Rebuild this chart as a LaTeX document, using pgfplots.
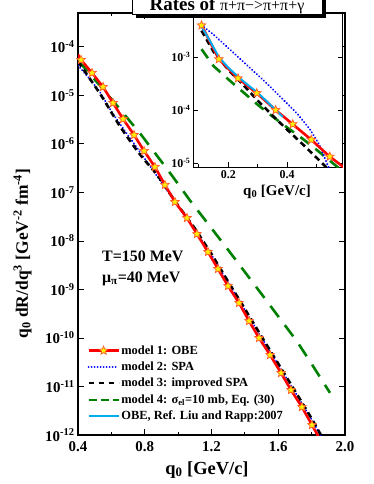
\documentclass[border=0pt]{standalone}
\usepackage{fontspec}
\setmainfont{Liberation Serif}
\usepackage{pgfplots}
\pgfplotsset{compat=1.18}
\definecolor{dgreen}{RGB}{0,128,0}
\definecolor{staredge}{RGB}{255,90,40}
\pgfdeclareplotmark{fstar}{%
 \pgfpathmoveto{\pgfpointpolar{90}{\pgfplotmarksize}}%
 \pgfpathlineto{\pgfpointpolar{126}{0.45\pgfplotmarksize}}%
 \pgfpathlineto{\pgfpointpolar{162}{\pgfplotmarksize}}%
 \pgfpathlineto{\pgfpointpolar{198}{0.45\pgfplotmarksize}}%
 \pgfpathlineto{\pgfpointpolar{234}{\pgfplotmarksize}}%
 \pgfpathlineto{\pgfpointpolar{270}{0.45\pgfplotmarksize}}%
 \pgfpathlineto{\pgfpointpolar{306}{\pgfplotmarksize}}%
 \pgfpathlineto{\pgfpointpolar{342}{0.45\pgfplotmarksize}}%
 \pgfpathlineto{\pgfpointpolar{18}{\pgfplotmarksize}}%
 \pgfpathlineto{\pgfpointpolar{54}{0.45\pgfplotmarksize}}%
 \pgfpathclose\pgfusepathqfillstroke}
\pgfplotsset{
  redline/.style={red, line width=2.6bp, solid},
  redstar/.style={only marks, mark=fstar, mark size=4.5bp, mark options={fill=yellow, draw=staredge, line width=0.7bp, solid}},
  blueline/.style={blue, line width=2.2bp, line cap=round, dash pattern=on 0.01bp off 3.2bp},
  blackline/.style={black, line width=2.6bp, dash pattern=on 6bp off 4bp},
  greenline/.style={dgreen, line width=2.6bp, dash pattern=on 14bp off 10bp},
  cyanline/.style={cyan, line width=2bp, solid},
}
\begin{document}
\begin{tikzpicture}
\useasboundingbox (0,0) rectangle (374bp,-484bp);
\begin{axis}[
  at={(78bp,-435bp)}, anchor=south west, scale only axis,
  width=267bp, height=422bp,
  xmin=0.4, xmax=2.0, ymode=log, log basis y=10, ymin=1e-12, ymax=5e-4,
  xtick={0.4,0.8,1.2,1.6,2.0}, xticklabels={0.4,0.8,1.2,1.6,2.0},
  minor xtick={0.6,1.0,1.4,1.8},
  ytick={1e-12,1e-11,1e-10,1e-9,1e-8,1e-7,1e-6,1e-5,1e-4},
  yticklabel={\pgfmathparse{int(round(\tick))}10\textsuperscript{\pgfmathresult}},
  tick label style={font=\fontsize{15}{17}\selectfont\bfseries},
  xticklabel style={yshift=-3bp},
  axis line style={line width=1.2bp},
  every tick/.append style={black, line width=0.9bp},
  major tick length=6bp, minor tick length=3.5bp,
  xlabel={q\textsubscript{0} [GeV/c]},
  xlabel style={font=\fontsize{18.5}{20}\selectfont\bfseries, at={(axis description cs:0.483,0)}, anchor=base, yshift=-39bp},
  ylabel={q\textsubscript{0} dR/dq\textsuperscript{3} [GeV\textsuperscript{-2} fm\textsuperscript{-4}]},
  ylabel style={font=\fontsize{17.5}{19}\selectfont\bfseries, at={(axis description cs:-0.188,0.43)}, anchor=base},
  legend style={at={(axis description cs:0.034,0.216)}, anchor=north west, draw=none, fill=none,
    font=\fontsize{12.5}{14}\selectfont\bfseries, row sep=3.2bp, inner sep=0pt,
    nodes={inner sep=1.5bp}},
  legend cell align=left,
  legend image code/.code={\draw[mark repeat=2,mark phase=2,#1] plot coordinates {(0bp,0bp) (15bp,0bp) (30bp,0bp)};},
]
\addlegendimage{red, line width=2.6bp, mark=fstar, mark size=4.5bp, mark options={fill=yellow, draw=staredge, line width=0.7bp, solid}}
\addlegendentry{model 1: OBE}
\addlegendimage{blue, line width=2bp, line cap=round, dash pattern=on 0.01bp off 3bp}
\addlegendentry{model 2: SPA}
\addlegendimage{black, line width=2bp, dash pattern=on 5bp off 5bp}
\addlegendentry{model 3: improved SPA}
\addlegendimage{dgreen, line width=2bp, dash pattern=on 8bp off 4bp}
\addlegendentry{model 4: σ\textsubscript{el}=10 mb, Eq. (30)}
\addlegendimage{cyan, line width=2bp}
\addlegendentry{OBE, Ref. Liu and Rapp:2007}

% model 4
\addplot[greenline, forget plot] coordinates {
(0.40,5.25e-5) (0.55,1.35e-5) (0.67,4.37e-6) (0.778,1.55e-6) (0.897,4.47e-7)
(0.969,2.09e-7) (1.07,6.92e-8) (1.18,2.24e-8) (1.29,7.24e-9) (1.40,2.29e-9)
(1.51,7.24e-10) (1.61,2.51e-10) (1.71,8.71e-11) (1.79,3.31e-11) (1.91,7.41e-12)};
% model 2
\addplot[blueline, forget plot] coordinates {
(0.40,4.17e-5) (0.47,2.19e-5) (0.53,1.20e-5) (0.60,4.68e-6) (0.68,1.86e-6)
(0.754,8.32e-7) (0.82,3.98e-7) (0.90,1.62e-7) (1.00,5.13e-8) (1.10,1.74e-8)
(1.20,5.13e-9) (1.30,1.38e-9) (1.40,3.80e-10) (1.50,1.02e-10) (1.60,2.82e-11)
(1.70,7.76e-12) (1.80,2.09e-12) (1.90,5.13e-13)};
% model 3
\addplot[blackline, forget plot] coordinates {
(0.40,5.01e-5) (0.45,2.82e-5) (0.50,1.58e-5) (0.55,8.71e-6) (0.60,4.47e-6)
(0.65,2.34e-6) (0.70,1.32e-6) (0.75,7.59e-7) (0.80,4.57e-7) (0.85,2.95e-7)
(0.90,1.74e-7) (0.95,9.55e-8) (1.00,5.37e-8) (1.10,1.82e-8) (1.20,5.37e-9)
(1.30,1.45e-9) (1.40,3.98e-10) (1.50,1.07e-10) (1.60,2.95e-11) (1.70,8.13e-12)
(1.80,2.19e-12) (1.90,5.37e-13)};
% model 1
\addplot[redline, forget plot] coordinates {
(0.40,6.92e-5) (0.418,5.40e-5) (0.484,2.91e-5) (0.550,1.50e-5) (0.610,7.00e-6)
(0.670,3.27e-6) (0.736,1.53e-6) (0.796,7.18e-7) (0.861,3.36e-7) (0.921,1.43e-7)
(0.981,6.37e-8) (1.053,2.98e-8) (1.113,1.39e-8) (1.179,5.93e-9) (1.239,2.65e-9)
(1.299,1.18e-9) (1.365,5.27e-10) (1.425,2.24e-10) (1.485,1.00e-10) (1.551,4.46e-11)
(1.617,1.90e-11) (1.676,8.47e-12) (1.742,3.78e-12) (1.802,1.61e-12) (1.86,7.08e-13)};
\addplot[redstar, forget plot] coordinates {
(0.418,5.40e-5) (0.484,2.91e-5) (0.550,1.50e-5) (0.610,7.00e-6)
(0.670,3.27e-6) (0.736,1.53e-6) (0.796,7.18e-7) (0.861,3.36e-7) (0.921,1.43e-7)
(0.981,6.37e-8) (1.053,2.98e-8) (1.113,1.39e-8) (1.179,5.93e-9) (1.239,2.65e-9)
(1.299,1.18e-9) (1.365,5.27e-10) (1.425,2.24e-10) (1.485,1.00e-10) (1.551,4.46e-11)
(1.617,1.90e-11) (1.676,8.47e-12) (1.742,3.78e-12) (1.802,1.61e-12)};
\end{axis}

% inset
\begin{axis}[
  at={(193bp,-167bp)}, anchor=south west, scale only axis,
  width=150bp, height=154bp,
  axis background/.style={fill=white},
  xmin=0.08, xmax=0.59, ymode=log, log basis y=10, ymin=8.4e-6, ymax=6.8e-3,
  xtick={0.2,0.4}, xticklabels={0.2,0.4}, minor xtick={0.1,0.3,0.5},
  ytick={1e-5,1e-4,1e-3},
  yticklabel={\pgfmathparse{int(round(\tick))}10\textsuperscript{\pgfmathresult}},
  tick label style={font=\fontsize{12}{14}\selectfont\bfseries},
  yticklabel style={xshift=1bp},
  axis line style={line width=1bp},
  every tick/.append style={black, line width=0.8bp},
  major tick length=5bp, minor tick length=3bp,
  xlabel={q\textsubscript{0} [GeV/c]},
  xlabel style={font=\fontsize{15}{17}\selectfont\bfseries, at={(axis description cs:0.56,0)}, anchor=base, yshift=-28bp},
]
\addplot[greenline, dash pattern=on 11bp off 8bp] coordinates {
(0.109,1.41e-3) (0.15,6.76e-4) (0.2,3.80e-4) (0.25,2.19e-4) (0.3,1.26e-4)
(0.35,7.59e-5) (0.4,4.68e-5) (0.45,2.95e-5) (0.5,1.78e-5) (0.57,8.51e-6) (0.6,6.31e-6)};
\addplot[blueline] coordinates {
(0.109,3.98e-3) (0.149,2.69e-3) (0.2,1.48e-3) (0.263,7.08e-4) (0.32,3.63e-4)
(0.375,1.82e-4) (0.433,8.71e-5) (0.477,4.37e-5) (0.51,2.19e-5) (0.538,9.12e-6) (0.55,6.31e-6)};
\addplot[blackline] coordinates {
(0.109,3.16e-3) (0.15,1.26e-3) (0.2,5.75e-4) (0.25,3.02e-4) (0.3,1.51e-4)
(0.35,7.94e-5) (0.4,4.27e-5) (0.45,2.34e-5) (0.5,1.26e-5) (0.55,6.76e-6)};
\addplot[redline] coordinates {
(0.109,3.98e-3) (0.168,9.12e-4) (0.233,3.98e-4) (0.297,2.09e-4) (0.361,1.00e-4)
(0.419,5.40e-5) (0.482,2.75e-5) (0.545,1.32e-5) (0.61,7.00e-6)};
\addplot[cyanline] coordinates {
(0.109,3.80e-3) (0.14,1.91e-3) (0.168,1.00e-3) (0.2,6.31e-4) (0.233,4.27e-4)
(0.265,3.02e-4) (0.297,2.19e-4) (0.33,1.48e-4) (0.361,1.00e-4) (0.385,7.41e-5)};
\addplot[redstar] coordinates {
(0.109,3.98e-3) (0.168,9.12e-4) (0.233,3.98e-4) (0.297,2.09e-4) (0.361,1.00e-4)
(0.419,5.40e-5) (0.482,2.75e-5) (0.545,1.32e-5)};
\end{axis}

% annotations
\node[anchor=base west, font=\fontsize{16}{18}\selectfont\bfseries, inner sep=0pt] at (102bp,-261bp) {T=150 MeV};
\node[anchor=base west, font=\fontsize{16}{18}\selectfont\bfseries, inner sep=0pt] at (102bp,-282bp) {μ\textsubscript{π}=40 MeV};

% title box
\fill[black] (136bp,-18bp) rectangle (326bp,8bp);
\draw[fill=white, line width=0.8bp] (132bp,-14bp) rectangle (322bp,12bp);
\node[anchor=base, inner sep=0pt] at (227bp,-10bp) {\fontsize{19}{21}\selectfont\bfseries Rates of \fontsize{16}{18}\selectfont\mdseries π+π−>π+π+γ};
\end{tikzpicture}
\end{document}
